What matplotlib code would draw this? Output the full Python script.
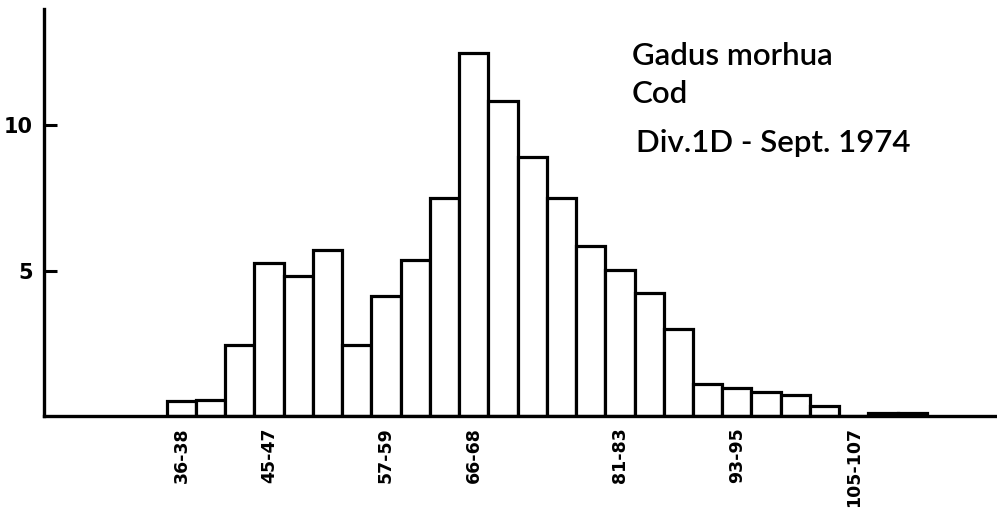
import matplotlib.pyplot as plt
import numpy as np

# length classes of 3 cm, starting at 36-38
class_starts = list(range(36, 36 + 3 * 26, 3))
percent = [0.5, 0.55, 2.45, 5.27, 4.83, 5.72, 2.45, 4.14, 5.38, 7.5,
           12.5, 10.83, 8.9, 7.5, 5.86, 5.03, 4.24, 3.0, 1.1, 0.95,
           0.82, 0.72, 0.35, 0.0, 0.12, 0.12]
labelled = ['36-38', '45-47', '57-59', '66-68', '81-83', '93-95', '105-107']
yticks = [5, 10]
title_lines = ['Gadus morhua', 'Cod', 'Div.1D - Sept. 1974']

W, H = 997, 508
fig = plt.figure(figsize=(W / 100, H / 100), dpi=100)
ax = fig.add_axes([44 / W, (H - 416) / H, (W - 44) / W, 407 / H])

x = np.arange(len(percent))
ax.bar(x, percent, width=1.0, align='edge', facecolor='white',
       edgecolor='black', linewidth=2.3)

ax.set_xlim(-4.2, 28.4)
ax.set_ylim(0, 14.0)

for s in ['top', 'right']:
    ax.spines[s].set_visible(False)
for s in ['left', 'bottom']:
    ax.spines[s].set_linewidth(2.4)

ax.set_yticks(yticks)
ax.set_yticklabels([str(v) for v in yticks], fontsize=15, fontweight='bold')
ax.tick_params(axis='y', direction='in', length=9, width=2.2, pad=8)

names = ['%d-%d' % (s, s + 2) for s in class_starts]
pos = [names.index(l) + 0.5 for l in labelled]
ax.set_xticks(pos)
ax.set_xticklabels(labelled, rotation=90, fontsize=12.5, fontweight='heavy', va='top')
ax.tick_params(axis='x', length=0, pad=8)

# species block, top right
baselines = [65, 103, 152]
lefts = [632, 632, 636]
for t, yb, xl in zip(title_lines, baselines, lefts):
    fig.text(xl / W, 1 - yb / H, t, fontsize=22.5, family='Lato',
             fontweight='semibold', va='baseline', ha='left')

fig.savefig('out.png', dpi=100)
